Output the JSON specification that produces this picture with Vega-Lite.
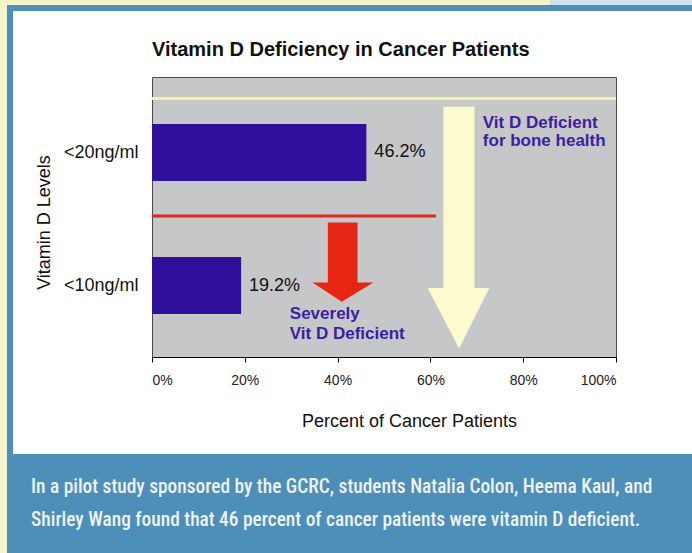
{
  "$schema": "https://vega.github.io/schema/vega-lite/v6.json",
  "padding": 0,
  "background": "#ffffff",
  "spacing": 0,
  "config": {
    "view": {"stroke": null},
    "concat": {"spacing": 0},
    "font": "Liberation Sans",
    "text": {"font": "Liberation Sans"}
  },
  "datasets": {
    "bars": [
      {"level": "<20ng/ml", "pct": 46.2, "pos": 73.9, "label": "46.2%"},
      {"level": "<10ng/ml", "pct": 19.2, "pos": 24.6, "label": "19.2%"}
    ],
    "blank": [{}]
  },
  "vconcat": [
    {
      "spacing": 0,
      "hconcat": [
        {"width": 550, "height": 5, "view": {"fill": "#f5f3c9", "stroke": null}, "data": {"name": "blank"}, "mark": {"type": "rect", "opacity": 0}},
        {"width": 142, "height": 5, "view": {"fill": "#cfe1eb", "stroke": null}, "data": {"name": "blank"}, "mark": {"type": "rect", "opacity": 0}}
      ]
    },
    {
      "spacing": 0,
      "hconcat": [
        {"width": 7, "height": 6, "view": {"fill": "#f5f3c9", "stroke": null}, "data": {"name": "blank"}, "mark": {"type": "rect", "opacity": 0}},
        {"width": 685, "height": 6, "view": {"fill": "#4d8fb8", "stroke": null}, "data": {"name": "blank"}, "mark": {"type": "rect", "opacity": 0}}
      ]
    },
    {
      "spacing": 0,
      "hconcat": [
        {"width": 7, "height": 443, "view": {"fill": "#f5f3c9", "stroke": null}, "data": {"name": "blank"}, "mark": {"type": "rect", "opacity": 0}},
        {"width": 6, "height": 443, "view": {"fill": "#4d8fb8", "stroke": null}, "data": {"name": "blank"}, "mark": {"type": "rect", "opacity": 0}},
        {"width": 21, "height": 1, "data": {"name": "blank"}, "mark": {"type": "rect", "opacity": 0}},
        {
          "spacing": 0,
          "vconcat": [
            {"width": 1, "height": 28, "data": {"name": "blank"}, "mark": {"type": "rect", "opacity": 0}},
            {
              "width": 464,
              "height": 280,
              "view": {"fill": "#c6c7c9", "stroke": "#4a4a4a", "strokeWidth": 1},
              "title": {
                "text": "Vitamin D Deficiency in Cancer Patients",
                "anchor": "start",
                "frame": "group",
                "font": "Liberation Sans",
                "fontSize": 20,
                "fontWeight": "bold",
                "color": "#111111",
                "offset": 17
              },
              "layer": [
                {
                  "data": {"name": "bars"},
                  "mark": {"type": "bar", "orient": "horizontal", "size": 57, "color": "#2f0f9c"},
                  "encoding": {
                    "x": {
                      "field": "pct", "type": "quantitative",
                      "scale": {"domain": [0, 100], "nice": false},
                      "axis": {
                        "values": [0, 20, 40, 60, 80, 100],
                        "labelExpr": "datum.value + '%'",
                        "title": "Percent of Cancer Patients",
                        "grid": false,
                        "domainColor": "#000000",
                        "tickColor": "#000000",
                        "tickSize": 5,
                        "labelFont": "Liberation Sans",
                        "labelFontSize": 14,
                        "labelColor": "#222222",
                        "labelPadding": 11,
                        "titleFont": "Liberation Sans",
                        "titleFontSize": 18,
                        "titleFontWeight": "normal",
                        "titleColor": "#111111",
                        "titlePadding": 25,
                        "titleX": 257
                      }
                    },
                    "y": {
                      "field": "pos", "type": "quantitative",
                      "scale": {"domain": [0, 100], "nice": false},
                      "axis": {
                        "values": [24.6, 73.9],
                        "labelExpr": "datum.value > 50 ? '<20ng/ml' : '<10ng/ml'",
                        "title": "Vitamin D Levels",
                        "ticks": false,
                        "domain": false,
                        "grid": false,
                        "labelFont": "Liberation Sans",
                        "labelFontSize": 18,
                        "labelColor": "#111111",
                        "labelPadding": 14,
                        "titleFont": "Liberation Sans",
                        "titleFontSize": 18,
                        "titleFontWeight": "normal",
                        "titleColor": "#111111",
                        "titlePadding": 10,
                        "titleY": 145
                      }
                    }
                  }
                },
                {
                  "data": {"values": [
                    {"marker": "bone line", "y": 93.9, "from": 0, "to": 100},
                    {"marker": "severe line", "y": 50.4, "from": 0, "to": 61.2}
                  ]},
                  "mark": {"type": "rule", "strokeWidth": 3},
                  "encoding": {
                    "x": {"field": "from", "type": "quantitative"},
                    "x2": {"field": "to"},
                    "y": {"field": "y", "type": "quantitative"},
                    "color": {"field": "marker", "type": "nominal", "legend": null,
                      "scale": {"domain": ["bone line", "severe line", "bone arrow", "severe arrow"], "range": ["#f6f2a2", "#d92a1c", "#fbfbcf", "#e62612"]}}
                  }
                },
                {
                  "data": {"values": [
                    {"marker": "bone arrow", "x1": 62.8, "x2": 69.5, "y1": 23.0, "y2": 90.8},
                    {"marker": "severe arrow", "x1": 37.9, "x2": 44.3, "y1": 25.0, "y2": 48.0}
                  ]},
                  "mark": {"type": "rect"},
                  "encoding": {
                    "x": {"field": "x1", "type": "quantitative"},
                    "x2": {"field": "x2"},
                    "y": {"field": "y1", "type": "quantitative"},
                    "y2": {"field": "y2"},
                    "color": {"field": "marker", "type": "nominal", "legend": null,
                      "scale": {"domain": ["bone line", "severe line", "bone arrow", "severe arrow"], "range": ["#f6f2a2", "#d92a1c", "#fbfbcf", "#e62612"]}}
                  }
                },
                {
                  "data": {"values": [
                    {"marker": "bone arrow", "x": 59.4, "base": 23.7, "tip": 23.7},
                    {"marker": "bone arrow", "x": 66.2, "base": 23.7, "tip": 1.3},
                    {"marker": "bone arrow", "x": 72.7, "base": 23.7, "tip": 23.7},
                    {"marker": "severe arrow", "x": 34.6, "base": 25.7, "tip": 25.7},
                    {"marker": "severe arrow", "x": 40.9, "base": 25.7, "tip": 18.6},
                    {"marker": "severe arrow", "x": 47.7, "base": 25.7, "tip": 25.7}
                  ]},
                  "mark": {"type": "area", "orient": "vertical", "interpolate": "linear"},
                  "encoding": {
                    "x": {"field": "x", "type": "quantitative"},
                    "y": {"field": "base", "type": "quantitative", "stack": null},
                    "y2": {"field": "tip"},
                    "color": {"field": "marker", "type": "nominal", "legend": null,
                      "scale": {"domain": ["bone line", "severe line", "bone arrow", "severe arrow"], "range": ["#f6f2a2", "#d92a1c", "#fbfbcf", "#e62612"]}}
                  }
                },
                {
                  "data": {"name": "bars"},
                  "mark": {"type": "text", "align": "left", "baseline": "middle", "dx": 8, "fontSize": 18, "color": "#111111", "font": "Liberation Sans"},
                  "encoding": {
                    "x": {"field": "pct", "type": "quantitative"},
                    "y": {"field": "pos", "type": "quantitative"},
                    "text": {"field": "label"}
                  }
                },
                {
                  "data": {"values": [
                    {"note": "Vit D Deficient", "x": 71.3, "y": 84.9},
                    {"note": "for bone health", "x": 71.3, "y": 78.1},
                    {"note": "Severely", "x": 29.7, "y": 13.9},
                    {"note": "Vit D Deficient", "x": 29.7, "y": 6.8}
                  ]},
                  "mark": {"type": "text", "align": "left", "baseline": "middle", "fontSize": 17, "fontWeight": "bold", "color": "#3b1f9e", "font": "Liberation Sans"},
                  "encoding": {
                    "x": {"field": "x", "type": "quantitative"},
                    "y": {"field": "y", "type": "quantitative"},
                    "text": {"field": "note"}
                  }
                }
              ]
            }
          ]
        }
      ]
    },
    {
      "spacing": 0,
      "hconcat": [
        {"width": 7, "height": 99, "view": {"fill": "#f5f3c9", "stroke": null}, "data": {"name": "blank"}, "mark": {"type": "rect", "opacity": 0}},
        {
          "width": 685,
          "height": 99,
          "view": {"fill": "#4d8fb8", "stroke": null},
          "data": {"values": [
            {"line": 1, "text": "In a pilot study sponsored by the GCRC, students Natalia Colon, Heema Kaul, and"},
            {"line": 2, "text": "Shirley Wang found that 46 percent of cancer patients were vitamin D deficient."}
          ]},
          "mark": {"type": "text", "align": "left", "baseline": "middle", "dx": 24, "fontSize": 19.4, "fontWeight": 500, "color": "#eef3f7", "font": "Roboto Condensed, Roboto, sans-serif"},
          "encoding": {
            "x": {"datum": 0, "type": "quantitative", "scale": {"domain": [0, 1]}, "axis": null},
            "y": {"field": "line", "type": "ordinal", "scale": {"type": "point", "padding": 1.25}, "axis": null},
            "text": {"field": "text"}
          }
        }
      ]
    }
  ]
}
